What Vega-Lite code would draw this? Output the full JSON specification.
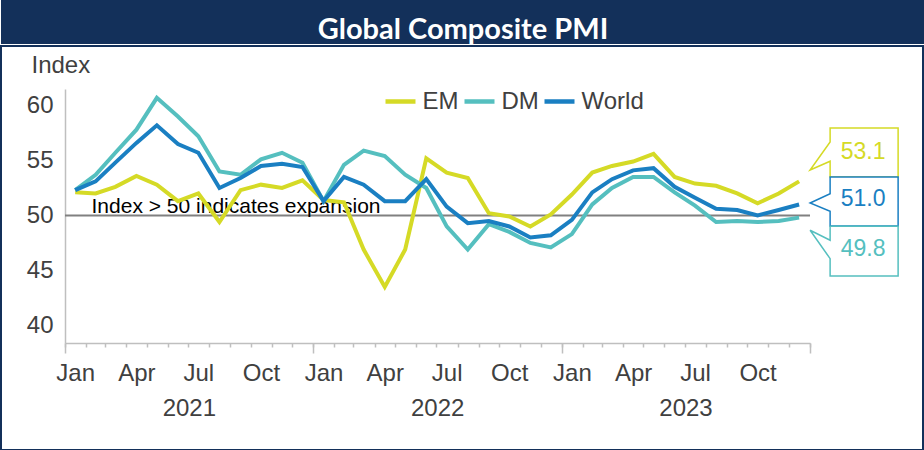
{
  "$schema": "https://vega.github.io/schema/vega-lite/v6.json",
  "background": "white",
  "padding": 0,
  "config": {"font": "Liberation Sans"},
  "spacing": 0,
  "vconcat": [
    {
      "width": 924,
      "height": 44,
      "view": {"fill": "#13305a", "stroke": null},
      "data": {"values": [{"title": "Global Composite PMI"}]},
      "mark": {"type": "text", "font": "Lato", "fontWeight": "bold", "fontSize": 29, "color": "white", "baseline": "middle", "align": "center", "dy": 7.5},
      "encoding": {"text": {"field": "title", "type": "nominal"}}
    },
    {
      "width": 922,
      "height": 404,
      "view": {"fill": "white", "stroke": "#13305a", "strokeWidth": 2},
      "data": {"values": [
        {"date": "2021-01-16", "EM": 52.1, "DM": 52.3, "World": 52.3},
        {"date": "2021-02-15", "EM": 52.0, "DM": 53.7, "World": 53.1},
        {"date": "2021-03-16", "EM": 52.6, "DM": 55.7, "World": 54.8},
        {"date": "2021-04-16", "EM": 53.6, "DM": 57.8, "World": 56.6},
        {"date": "2021-05-16", "EM": 52.8, "DM": 60.7, "World": 58.2},
        {"date": "2021-06-16", "EM": 51.3, "DM": 59.0, "World": 56.5},
        {"date": "2021-07-16", "EM": 52.0, "DM": 57.2, "World": 55.7},
        {"date": "2021-08-16", "EM": 49.4, "DM": 54.0, "World": 52.5},
        {"date": "2021-09-16", "EM": 52.3, "DM": 53.7, "World": 53.4},
        {"date": "2021-10-16", "EM": 52.8, "DM": 55.1, "World": 54.5},
        {"date": "2021-11-16", "EM": 52.5, "DM": 55.7, "World": 54.7},
        {"date": "2021-12-16", "EM": 53.2, "DM": 54.8, "World": 54.4},
        {"date": "2022-01-16", "EM": 51.4, "DM": 51.3, "World": 51.3},
        {"date": "2022-02-15", "EM": 51.2, "DM": 54.6, "World": 53.5},
        {"date": "2022-03-16", "EM": 46.9, "DM": 55.9, "World": 52.8},
        {"date": "2022-04-16", "EM": 43.5, "DM": 55.4, "World": 51.3},
        {"date": "2022-05-16", "EM": 46.9, "DM": 53.7, "World": 51.3},
        {"date": "2022-06-16", "EM": 55.2, "DM": 52.5, "World": 53.3},
        {"date": "2022-07-16", "EM": 53.9, "DM": 49.0, "World": 50.8},
        {"date": "2022-08-16", "EM": 53.4, "DM": 46.9, "World": 49.3},
        {"date": "2022-09-16", "EM": 50.2, "DM": 49.2, "World": 49.5},
        {"date": "2022-10-16", "EM": 49.9, "DM": 48.5, "World": 49.0},
        {"date": "2022-11-16", "EM": 49.0, "DM": 47.5, "World": 48.0},
        {"date": "2022-12-16", "EM": 50.1, "DM": 47.1, "World": 48.2},
        {"date": "2023-01-16", "EM": 51.9, "DM": 48.3, "World": 49.6},
        {"date": "2023-02-15", "EM": 53.9, "DM": 51.0, "World": 52.1},
        {"date": "2023-03-16", "EM": 54.5, "DM": 52.5, "World": 53.3},
        {"date": "2023-04-16", "EM": 54.9, "DM": 53.5, "World": 54.1},
        {"date": "2023-05-16", "EM": 55.6, "DM": 53.5, "World": 54.3},
        {"date": "2023-06-16", "EM": 53.5, "DM": 52.1, "World": 52.6},
        {"date": "2023-07-16", "EM": 52.9, "DM": 50.9, "World": 51.6},
        {"date": "2023-08-16", "EM": 52.7, "DM": 49.4, "World": 50.6},
        {"date": "2023-09-16", "EM": 52.0, "DM": 49.5, "World": 50.5},
        {"date": "2023-10-16", "EM": 51.1, "DM": 49.4, "World": 50.0},
        {"date": "2023-11-16", "EM": 52.0, "DM": 49.5, "World": 50.5},
        {"date": "2023-12-16", "EM": 53.1, "DM": 49.8, "World": 51.0}
      ]},
      "resolve": {"axis": {"x": "independent"}},
      "layer": [
        {
          "data": {"values": [{"threshold": 50, "note": "Index > 50 indicates expansion"}]},
          "mark": {"type": "rule", "color": "#808080", "strokeWidth": 2},
          "encoding": {
            "x": {"datum": {"year": 2021, "month": 1, "date": 1, "utc": true}, "type": "temporal", "axis": null},
            "x2": {"datum": {"year": 2024, "month": 1, "date": 1, "utc": true}},
            "y": {"field": "threshold", "type": "quantitative"}
          }
        },
        {
          "data": {"values": [{"threshold": 50, "note": "Index > 50 indicates expansion"}]},
          "mark": {"type": "text", "fontSize": 21, "color": "#000000", "align": "left", "baseline": "alphabetic", "dy": -2},
          "encoding": {
            "x": {"datum": {"year": 2021, "month": 2, "date": 9, "utc": true}, "type": "temporal", "axis": null},
            "y": {"field": "threshold", "type": "quantitative"},
            "text": {"field": "note", "type": "nominal"}
          }
        },
        {
          "transform": [{"fold": ["EM", "DM", "World"], "as": ["series", "value"]}],
          "mark": {"type": "line", "strokeWidth": 4},
          "encoding": {
            "x": {
              "field": "date", "type": "temporal",
              "scale": {"type": "utc", "range": [64, 809], "domain": [{"year": 2021, "month": 1, "date": 1, "utc": true}, {"year": 2024, "month": 1, "date": 1, "utc": true}]},
              "axis": {
                "orient": "bottom", "offset": -107, "title": null, "grid": false, "ticks": false, "tickSize": 0, "domain": false,
                "values": [
                  {"year": 2021, "month": 1, "date": 16, "utc": true}, {"year": 2021, "month": 4, "date": 16, "utc": true},
                  {"year": 2021, "month": 7, "date": 16, "utc": true}, {"year": 2021, "month": 10, "date": 16, "utc": true},
                  {"year": 2022, "month": 1, "date": 16, "utc": true}, {"year": 2022, "month": 4, "date": 16, "utc": true},
                  {"year": 2022, "month": 7, "date": 16, "utc": true}, {"year": 2022, "month": 10, "date": 16, "utc": true},
                  {"year": 2023, "month": 1, "date": 16, "utc": true}, {"year": 2023, "month": 4, "date": 16, "utc": true},
                  {"year": 2023, "month": 7, "date": 16, "utc": true}, {"year": 2023, "month": 10, "date": 16, "utc": true}
                ],
                "labelExpr": "utcFormat(datum.value, '%b')",
                "labelFontSize": 24, "labelColor": "#404040", "labelPadding": 18, "labelFlush": false, "labelOverlap": false
              }
            },
            "y": {
              "field": "value", "type": "quantitative",
              "scale": {"domain": [38.4, 61.5], "range": [297, 43], "nice": false, "zero": false},
              "axis": {
                "orient": "left", "offset": -64,
                "values": [40, 45, 50, 55, 60], "ticks": false, "grid": false,
                "domainColor": "#bfbfbf", "domainWidth": 1.5,
                "labelFontSize": 24, "labelColor": "#404040", "labelPadding": 12,
                "title": "Index", "titleAngle": 0, "titleX": -34, "titleY": 19.5, "titleAlign": "left", "titleBaseline": "middle",
                "titleFontSize": 24, "titleFontWeight": "normal", "titleColor": "#404040"
              }
            },
            "color": {
              "field": "series", "type": "nominal",
              "scale": {"domain": ["EM", "DM", "World"], "range": ["#d5da26", "#55bfbf", "#1a7fc2"]},
              "legend": {
                "orient": "none", "legendX": 382, "legendY": 84, "direction": "horizontal", "title": null, "padding": 0,
                "gridAlign": "none",
                "symbolType": "stroke", "symbolSize": 900, "symbolStrokeWidth": 4.5,
                "labelFontSize": 24, "labelColor": "#404040", "labelOffset": 4.5, "columnPadding": -4
              }
            }
          }
        },
        {
          "transform": [
            {"fold": ["EM", "DM", "World"], "as": ["series", "value"]},
            {"filter": {"and": [{"field": "series", "equal": "EM"}, {"field": "date", "timeUnit": "utcyearmonth", "equal": {"year": 2023, "month": 12, "utc": true}}]}}
          ],
          "mark": {"type": "point", "filled": true, "fill": "white", "stroke": "#d5da26", "strokeWidth": 1.5, "opacity": 1, "size": 4,
                   "shape": "M11,-11.4L31,-20.1L31,-4.4L99,-4.4L99,-53.4L31,-53.4L31,-39.4Z"},
          "encoding": {
            "x": {
              "field": "date", "type": "temporal",
              "axis": {"orient": "bottom", "offset": -107, "title": null, "grid": false, "labels": false, "tickCount": {"interval": "month", "step": 1}, "tickSize": 4, "tickColor": "#bfbfbf", "tickWidth": 1.5, "domainColor": "#bfbfbf", "domainWidth": 1.5}
            },
            "y": {"field": "value", "type": "quantitative"}
          }
        },
        {
          "transform": [
            {"fold": ["EM", "DM", "World"], "as": ["series", "value"]},
            {"filter": {"and": [{"field": "series", "equal": "World"}, {"field": "date", "timeUnit": "utcyearmonth", "equal": {"year": 2023, "month": 12, "utc": true}}]}}
          ],
          "mark": {"type": "point", "filled": true, "fill": "white", "stroke": "#1a7fc2", "strokeWidth": 1.5, "opacity": 1, "size": 4,
                   "shape": "M11,-1.5L31,-10.8L31,-27.5L99,-27.5L99,21.5L31,21.5L31,6.8Z"},
          "encoding": {
            "x": {
              "field": "date", "type": "temporal",
              "axis": {"orient": "bottom", "offset": -107, "title": null, "grid": false, "labels": false, "domain": false, "tickCount": {"interval": "year", "step": 1}, "tickSize": 10, "tickColor": "#bfbfbf", "tickWidth": 1.5}
            },
            "y": {"field": "value", "type": "quantitative"}
          }
        },
        {
          "transform": [
            {"fold": ["EM", "DM", "World"], "as": ["series", "value"]},
            {"filter": {"and": [{"field": "series", "equal": "DM"}, {"field": "date", "timeUnit": "utcyearmonth", "equal": {"year": 2023, "month": 12, "utc": true}}]}}
          ],
          "mark": {"type": "point", "filled": true, "fill": "white", "stroke": "#55bfbf", "strokeWidth": 1.5, "opacity": 1, "size": 4,
                   "shape": "M11,12.6L31,22.6L31,8.6L99,8.6L99,58.3L31,58.3L31,41Z"},
          "encoding": {
            "x": {
              "field": "date", "type": "temporal",
              "axis": {
                "orient": "bottom", "offset": -107, "title": null, "grid": false, "ticks": false, "tickSize": 0, "domain": false,
                "values": [{"year": 2021, "month": 7, "date": 2, "utc": true}, {"year": 2022, "month": 7, "date": 2, "utc": true}, {"year": 2023, "month": 7, "date": 2, "utc": true}],
                "labelExpr": "utcFormat(datum.value, '%Y')",
                "labelFontSize": 24, "labelColor": "#404040", "labelPadding": 53, "labelFlush": false, "labelOverlap": false
              }
            },
            "y": {"field": "value", "type": "quantitative"}
          }
        },
        {
          "transform": [
            {"fold": ["EM", "DM", "World"], "as": ["series", "value"]},
            {"filter": {"and": [{"field": "series", "equal": "EM"}, {"field": "date", "timeUnit": "utcyearmonth", "equal": {"year": 2023, "month": 12, "utc": true}}]}}
          ],
          "mark": {"type": "text", "fontSize": 23, "color": "#d5da26", "align": "center", "baseline": "middle", "dx": 64, "dy": -29},
          "encoding": {
            "x": {"field": "date", "type": "temporal", "axis": null},
            "y": {"field": "value", "type": "quantitative"},
            "text": {"field": "value", "type": "quantitative", "format": ".1f"}
          }
        },
        {
          "transform": [
            {"fold": ["EM", "DM", "World"], "as": ["series", "value"]},
            {"filter": {"and": [{"field": "series", "equal": "World"}, {"field": "date", "timeUnit": "utcyearmonth", "equal": {"year": 2023, "month": 12, "utc": true}}]}}
          ],
          "mark": {"type": "text", "fontSize": 23, "color": "#1a7fc2", "align": "center", "baseline": "middle", "dx": 64, "dy": -5.5},
          "encoding": {
            "x": {"field": "date", "type": "temporal", "axis": null},
            "y": {"field": "value", "type": "quantitative"},
            "text": {"field": "value", "type": "quantitative", "format": ".1f"}
          }
        },
        {
          "transform": [
            {"fold": ["EM", "DM", "World"], "as": ["series", "value"]},
            {"filter": {"and": [{"field": "series", "equal": "DM"}, {"field": "date", "timeUnit": "utcyearmonth", "equal": {"year": 2023, "month": 12, "utc": true}}]}}
          ],
          "mark": {"type": "text", "fontSize": 23, "color": "#55bfbf", "align": "center", "baseline": "middle", "dx": 64, "dy": 31.5},
          "encoding": {
            "x": {"field": "date", "type": "temporal", "axis": null},
            "y": {"field": "value", "type": "quantitative"},
            "text": {"field": "value", "type": "quantitative", "format": ".1f"}
          }
        }
      ]
    }
  ]
}
